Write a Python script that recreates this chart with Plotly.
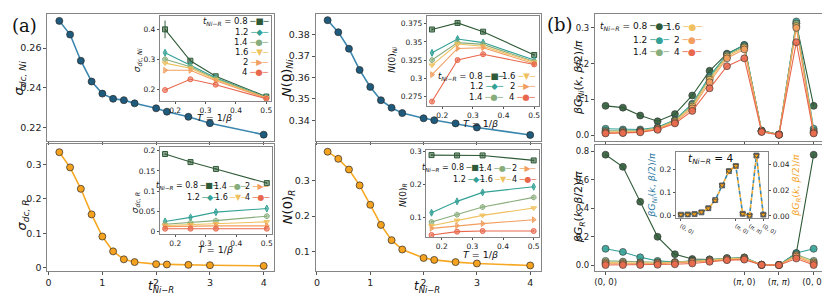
import plotly.graph_objects as go

W, H = 830, 294
FONT = "DejaVu Sans"

# ---------------- data ----------------
t_hop = [0.2, 0.4, 0.6, 0.8, 1.0, 1.2, 1.4, 1.6, 2.0, 2.2, 2.6, 3.0, 4.0]
sigma_ni = [0.2737, 0.2668, 0.2536, 0.2431, 0.2370, 0.2344, 0.2337, 0.2321, 0.2296, 0.2279, 0.2253, 0.2221, 0.2163]
sigma_r = [0.335, 0.291, 0.229, 0.155, 0.091, 0.048, 0.025, 0.017, 0.011, 0.010, 0.009, 0.008, 0.006]
n0_ni = [0.3867, 0.3811, 0.3734, 0.3635, 0.3556, 0.3494, 0.3459, 0.3434, 0.3410, 0.3401, 0.3386, 0.3367, 0.3332]
n0_r = [0.3827, 0.3625, 0.3322, 0.2873, 0.2322, 0.1752, 0.1320, 0.1055, 0.0815, 0.0760, 0.0697, 0.0659, 0.0603]

temps = [1 / 6, 1 / 4, 1 / 3, 1 / 2]
t_labels = ["0.8", "1.2", "1.4", "1.6", "2", "4"]

sigma_ni_T = [
    [0.400, 0.295, 0.243, 0.175],
    [0.322, 0.280, 0.238, 0.173],
    [0.300, 0.275, 0.235, 0.172],
    [0.287, 0.270, 0.232, 0.171],
    [0.263, 0.263, 0.228, 0.170],
    [0.197, 0.233, 0.215, 0.168],
]
sigma_ni_T_err = [
    [0.030, 0.006, 0.004, 0.003],
    [0.006, 0.004, 0.003, 0.002],
    [0.004, 0.003, 0.003, 0.002],
    [0.004, 0.003, 0.002, 0.002],
    [0.003, 0.003, 0.002, 0.002],
    [0.003, 0.002, 0.002, 0.002],
]
sigma_r_T = [
    [0.192, 0.172, 0.155, 0.120],
    [0.025, 0.035, 0.048, 0.057],
    [0.018, 0.022, 0.027, 0.038],
    [0.015, 0.017, 0.019, 0.024],
    [0.012, 0.013, 0.014, 0.014],
    [0.007, 0.007, 0.007, 0.007],
]
sigma_r_T_err = [
    [0.002, 0.002, 0.002, 0.002],
    [0.003, 0.003, 0.003, 0.002],
    [0.002, 0.002, 0.002, 0.002],
    [0.002, 0.002, 0.002, 0.002],
    [0.002, 0.002, 0.002, 0.002],
    [0.002, 0.002, 0.002, 0.002],
]
n0_ni_T = [
    [0.367, 0.376, 0.364, 0.332],
    [0.335, 0.354, 0.349, 0.325],
    [0.325, 0.349, 0.3465, 0.323],
    [0.318, 0.347, 0.344, 0.322],
    [0.305, 0.341, 0.342, 0.320],
    [0.268, 0.325, 0.333, 0.319],
]
n0_ni_T_err = [
    [0.002, 0.002, 0.002, 0.002],
    [0.003, 0.003, 0.002, 0.002],
    [0.002, 0.002, 0.002, 0.002],
    [0.002, 0.002, 0.002, 0.002],
    [0.002, 0.002, 0.002, 0.002],
    [0.002, 0.002, 0.002, 0.002],
]
n0_r_T = [
    [0.288, 0.287, 0.287, 0.272],
    [0.115, 0.149, 0.176, 0.193],
    [0.087, 0.109, 0.132, 0.161],
    [0.076, 0.092, 0.107, 0.129],
    [0.068, 0.076, 0.082, 0.094],
    [0.048, 0.058, 0.060, 0.060],
]
n0_r_T_err = [
    [0.003, 0.003, 0.003, 0.003],
    [0.006, 0.005, 0.005, 0.004],
    [0.003, 0.003, 0.003, 0.003],
    [0.003, 0.003, 0.003, 0.003],
    [0.003, 0.003, 0.003, 0.003],
    [0.003, 0.003, 0.003, 0.003],
]

k_index = list(range(13))
k_tick_index = [0, 8, 10, 12]
k_tick_labels = ["(0, 0)", "(<i>π</i>, 0)", "(<i>π</i>, <i>π</i>)", "(0, 0)"]

g_ni = [
    [0.082, 0.077, 0.055, 0.039, 0.059, 0.111, 0.180, 0.228, 0.252, 0.013, 0.002, 0.312, 0.082],
    [0.018, 0.016, 0.016, 0.022, 0.043, 0.088, 0.165, 0.226, 0.252, 0.012, 0.002, 0.318, 0.018],
    [0.012, 0.012, 0.013, 0.020, 0.041, 0.085, 0.160, 0.224, 0.248, 0.012, 0.002, 0.312, 0.012],
    [0.009, 0.009, 0.011, 0.019, 0.039, 0.080, 0.155, 0.220, 0.245, 0.011, 0.002, 0.305, 0.009],
    [0.007, 0.007, 0.010, 0.017, 0.036, 0.075, 0.148, 0.215, 0.240, 0.010, 0.001, 0.300, 0.007],
    [0.005, 0.006, 0.008, 0.015, 0.033, 0.068, 0.131, 0.193, 0.215, 0.009, 0.001, 0.260, 0.005],
]
g_r = [
    [0.775, 0.690, 0.445, 0.199, 0.077, 0.043, 0.040, 0.043, 0.045, 0.002, 0.001, 0.084, 0.775],
    [0.115, 0.093, 0.055, 0.030, 0.022, 0.030, 0.040, 0.050, 0.055, 0.003, 0.002, 0.085, 0.115],
    [0.030, 0.025, 0.020, 0.020, 0.020, 0.030, 0.038, 0.048, 0.052, 0.003, 0.002, 0.075, 0.030],
    [0.018, 0.015, 0.014, 0.015, 0.018, 0.026, 0.034, 0.044, 0.048, 0.003, 0.002, 0.068, 0.018],
    [0.010, 0.009, 0.009, 0.011, 0.015, 0.022, 0.031, 0.040, 0.044, 0.003, 0.002, 0.060, 0.010],
    [0.001, 0.001, 0.0015, 0.003, 0.006, 0.012, 0.024, 0.035, 0.039, 0.0016, 0.0002, 0.047, 0.001],
]

# ---------------- styles ----------------
t_colors = ["#2f5a37", "#33a195", "#88ad7c", "#efc15e", "#f29e5f", "#e8684d"]
t_symbols = ["square", "diamond-tall", "octagon", "triangle-down", "triangle-right", "circle"]
t_glyphs = ["■", "◆", "●", "▼", "▶", "●"]
BLUE_LINE, BLUE_MK = "#3a86ae", "#1f5b7d"
ORANGE_LINE, ORANGE_MK = "#f7a823", "#f5a21f"


def rgba(h, a):
    h = h.lstrip("#")
    return f"rgba({int(h[0:2],16)},{int(h[2:4],16)},{int(h[4:6],16)},{a})"


def px_x(x):
    return x / W


def px_y(y):
    return 1 - y / H


def axis(dx, rng, tsize, **kw):
    d = dict(
        range=rng, showline=True, mirror=True, linecolor="#858585", linewidth=1.3,
        ticks="outside", ticklen=3, tickwidth=1, tickcolor="#555",
        showgrid=False, zeroline=False,
        tickfont=dict(family=FONT, size=tsize, color="#222"),
    )
    if dx:
        d["domain"] = [dx[0] / W, dx[1] / W]
    d.update(kw)
    return d


def ydom(top, bottom):
    return [1 - bottom / H, 1 - top / H]


fig = go.Figure()
layout = {}

tmain_rng = [-0.02, 4.2]
T_rng = [0.15, 0.517]
T_ticks = [0.2, 0.3, 0.4, 0.5]
# 1 sigma Ni main
layout["xaxis"] = axis((38, 268), tmain_rng, 9.5, anchor="y", tickvals=[0, 1, 2, 3, 4], showticklabels=False)
layout["yaxis"] = axis(None, [0.2132, 0.2772], 9.5, anchor="x", domain=ydom(3, 132.5), tickvals=[0.22, 0.24, 0.26])
# 2 sigma Ni inset
layout["xaxis2"] = axis((152, 265), T_rng, 7.5, anchor="y2", tickvals=T_ticks, ticklen=2)
layout["yaxis2"] = axis(None, [0.16, 0.445], 7.5, anchor="x2", domain=ydom(5, 92), tickvals=[0.2, 0.3, 0.4], ticklen=2)
# 3 sigma R main
layout["xaxis3"] = axis((38, 268), tmain_rng, 9.5, anchor="y3", tickvals=[0, 1, 2, 3, 4])
layout["yaxis3"] = axis(None, [-0.0076, 0.358], 9.5, anchor="x3", domain=ydom(136, 265), tickvals=[0, 0.1, 0.2, 0.3])
# 4 sigma R inset
layout["xaxis4"] = axis((152, 265.5), T_rng, 7.5, anchor="y4", tickvals=T_ticks, ticklen=2)
layout["yaxis4"] = axis(None, [-0.007, 0.209], 7.5, anchor="x4", domain=ydom(139, 228), tickvals=[0, 0.05, 0.1, 0.15, 0.2], ticktext=["0", "0.05", "0.1", "0.15", "0.2"], ticklen=2)
# 5 N Ni main
layout["xaxis5"] = axis((310, 538), tmain_rng, 9.5, anchor="y5", tickvals=[0, 1, 2, 3, 4], showticklabels=False)
layout["yaxis5"] = axis(None, [0.3305, 0.3896], 9.5, anchor="x5", domain=ydom(3, 132.5), tickvals=[0.34, 0.35, 0.36, 0.37, 0.38])
# 6 N Ni inset
layout["xaxis6"] = axis((422.5, 536.5), T_rng, 7.5, anchor="y6", tickvals=T_ticks, ticklen=2)
layout["yaxis6"] = axis(None, [0.2615, 0.385], 7.5, anchor="x6", domain=ydom(5.5, 97.3), tickvals=[0.275, 0.3, 0.325, 0.35, 0.375], ticktext=["0.275", "0.3", "0.325", "0.35", "0.375"], ticklen=2)
# 7 N R main
layout["xaxis7"] = axis((310, 538), tmain_rng, 9.5, anchor="y7", tickvals=[0, 1, 2, 3, 4])
layout["yaxis7"] = axis(None, [0.0457, 0.4039], 9.5, anchor="x7", domain=ydom(136, 265), tickvals=[0.1, 0.2, 0.3])
# 8 N R inset
layout["xaxis8"] = axis((422, 536), T_rng, 7.5, anchor="y8", tickvals=T_ticks, ticklen=2)
layout["yaxis8"] = axis(None, [0.042, 0.303], 7.5, anchor="x8", domain=ydom(142, 230.7), tickvals=[0.1, 0.2, 0.3], ticklen=2)
# 9 G Ni
layout["xaxis9"] = axis((593, 825), [-0.6, 12.6], 8.5, anchor="y9", tickvals=k_tick_index, showticklabels=False)
layout["yaxis9"] = axis(None, [-0.017, 0.339], 8.5, anchor="x9", domain=ydom(3, 133), tickvals=[0, 0.1, 0.2, 0.3], tickformat=".1f")
# 10 G R
layout["xaxis10"] = axis((593, 825), [-0.6, 12.6], 8.5, anchor="y10", tickvals=k_tick_index, ticktext=k_tick_labels)
layout["yaxis10"] = axis(None, [-0.038, 0.845], 8.5, anchor="x10", domain=ydom(136.5, 265), tickvals=[0, 0.2, 0.4, 0.6, 0.8], tickformat=".1f")
# 11 inset in (b)
layout["xaxis11"] = axis((675, 768.3), [-0.7, 12.7], 5.5, anchor="y11", tickvals=k_tick_index, ticktext=k_tick_labels, ticklen=2)
layout["yaxis11"] = axis(None, [-0.008, 0.275], 7.5, anchor="x11", domain=ydom(144, 211), tickvals=[0, 0.1, 0.2], tickformat=".1f", mirror=False, ticklen=2)
layout["yaxis12"] = axis(None, [-0.0014, 0.0497], 7.5, anchor="x11", overlaying="y11", side="right", tickvals=[0, 0.02, 0.04], tickformat=".2f", ticklen=2)


# ---------------- traces ----------------
def main_series(x, y, xa, ya, lc, mc):
    fig.add_trace(go.Scatter(
        x=x, y=y, xaxis=xa, yaxis=ya, mode="lines+markers",
        line=dict(color=lc, width=1.6),
        marker=dict(size=7, color=mc, line=dict(color="#2a2a2a", width=0.7)),
        showlegend=False, hoverinfo="skip"))


main_series(t_hop, sigma_ni, "x", "y", BLUE_LINE, BLUE_MK)
main_series(t_hop, sigma_r, "x3", "y3", ORANGE_LINE, ORANGE_MK)
main_series(t_hop, n0_ni, "x5", "y5", BLUE_LINE, BLUE_MK)
main_series(t_hop, n0_r, "x7", "y7", ORANGE_LINE, ORANGE_MK)


def inset_series(data, errs, xa, ya):
    for i in range(len(t_labels)):
        c = t_colors[i]
        fig.add_trace(go.Scatter(
            x=temps, y=data[i], xaxis=xa, yaxis=ya, mode="lines+markers",
            line=dict(color=c, width=1.1),
            marker=dict(size=5, symbol=t_symbols[i], color=rgba(c, 0.55), line=dict(color=c, width=1)),
            error_y=dict(type="data", array=errs[i], color=rgba(c, 0.8), thickness=1.2, width=0),
            showlegend=False, hoverinfo="skip"))


inset_series(sigma_ni_T, sigma_ni_T_err, "x2", "y2")
inset_series(sigma_r_T, sigma_r_T_err, "x4", "y4")
inset_series(n0_ni_T, n0_ni_T_err, "x6", "y6")
inset_series(n0_r_T, n0_r_T_err, "x8", "y8")


def k_series(data, xa, ya):
    for i in range(len(t_labels)):
        c = t_colors[i]
        fig.add_trace(go.Scatter(
            x=k_index, y=data[i], xaxis=xa, yaxis=ya, mode="lines+markers",
            line=dict(color=c, width=1.1),
            marker=dict(size=7, symbol="circle", color=rgba(c, 0.9), line=dict(color="#333", width=0.6)),
            showlegend=False, hoverinfo="skip"))


k_series(g_ni, "x9", "y9")
k_series(g_r, "x10", "y10")

# inset in (b): t = 4
fig.add_trace(go.Scatter(
    x=k_index, y=g_ni[5], xaxis="x11", yaxis="y11", mode="lines+markers",
    line=dict(color=BLUE_LINE, width=1.6, dash="4px,3px"),
    marker=dict(size=5, symbol="square", color="#6b7b80", line=dict(color="#333", width=0.6)),
    showlegend=False, hoverinfo="skip"))
fig.add_trace(go.Scatter(
    x=k_index, y=g_r[5], xaxis="x11", yaxis="y12", mode="lines+markers",
    line=dict(color=ORANGE_LINE, width=1.6, dash="0px,4px,3px,0px"),
    marker=dict(size=5, symbol="triangle-down", color=ORANGE_MK, line=dict(color="#333", width=0.6)),
    showlegend=False, hoverinfo="skip"))

# ---------------- annotations ----------------
ann = []


def text(x, y, s, size, angle=0, color="#111", family=FONT, xanchor="center"):
    ann.append(dict(xref="paper", yref="paper", x=px_x(x), y=px_y(y), text=s, showarrow=False,
                    textangle=angle, xanchor=xanchor, yanchor="middle",
                    font=dict(family=family, size=size, color=color)))


TNR = "<i>t</i><sub><i>Ni−R</i></sub>"
# panel labels
text(15, 15, "(a)", 18, family="DejaVu Serif")
text(557, 14, "(b)", 18, family="DejaVu Serif")
# main y titles
text(10, 68, "<i>σ</i><sub><i>dc, Ni</i></sub>", 13, -90)
text(13, 208, "<i>σ</i><sub><i>dc, R</i></sub>", 13, -90)
text(281, 68, "<i>N</i>(0)<sub><i>Ni</i></sub>", 13, -90)
text(283, 200, "<i>N</i>(0)<sub><i>R</i></sub>", 13, -90)
text(576, 68, "<i>βG</i><sub><i>Ni</i></sub>(<i>k</i>, <i>β</i>/2)/<i>π</i>", 11, -90)
text(577, 200, "<i>βG</i><sub><i>R</i></sub>(<i>k</i>, <i>β</i>/2)/<i>π</i>", 11, -90)
# x titles
text(153, 282, TNR, 12)
text(423, 282, TNR, 12)
# inset titles
text(130, 50, "<i>σ</i><sub><i>dc, Ni</i></sub>", 9, -90)
text(127, 195, "<i>σ</i><sub><i>dc, R</i></sub>", 9, -90)
text(388, 50, "<i>N</i>(0)<sub><i>Ni</i></sub>", 9, -90)
text(398, 188, "<i>N</i>(0)<sub><i>R</i></sub>", 9, -90)
text(207, 109, "<i>T</i> = 1/<i>β</i>", 9.5)
text(208, 243, "<i>T</i> = 1/<i>β</i>", 9.5)
text(477, 114.5, "<i>T</i> = 1/<i>β</i>", 9.5)
text(477, 249, "<i>T</i> = 1/<i>β</i>", 9.5)
text(651, 178, "<i>βG</i><sub><i>Ni</i></sub>(<i>k</i>, <i>β</i>/2)/<i>π</i>", 9.5, -90, color="#2f7aa5")
text(797, 178, "<i>βG</i><sub><i>R</i></sub>(<i>k</i>, <i>β</i>/2)/<i>π</i>", 9.5, -90, color="#f5a21f")
text(685, 151, TNR + " = 4", 10.5, xanchor="left")


def legend(cols, rows, glyphs, size):
    # column-major assignment of the six t values
    n = 0
    for xr in cols:
        for yc in rows:
            if n >= len(t_labels):
                break
            lab = (TNR + " = " + t_labels[n]) if n == 0 else t_labels[n]
            s = f"{lab} <span style='color:{t_colors[n]}'>─{glyphs[n]}─</span>"
            text(xr, yc, s, size, xanchor="right")
            n += 1


legend([265], [10.7, 21, 31.2, 41.4, 51.6, 61.8], t_glyphs, 8.5)
legend([213, 241, 265], [179, 190], t_glyphs, 8)
legend([503, 535], [66.7, 77, 87.3], t_glyphs, 8.5)
legend([482, 510, 535], [160.7, 171.7], t_glyphs, 8)
legend([670, 703], [16, 29.3, 42.3], ["●"] * 6, 9)

fig.update_layout(
    width=W, height=H, margin=dict(l=0, r=0, t=0, b=0),
    paper_bgcolor="white", plot_bgcolor="white",
    font=dict(family=FONT, color="#222"),
    showlegend=False, annotations=ann, **layout)

fig.write_html("out.html")
